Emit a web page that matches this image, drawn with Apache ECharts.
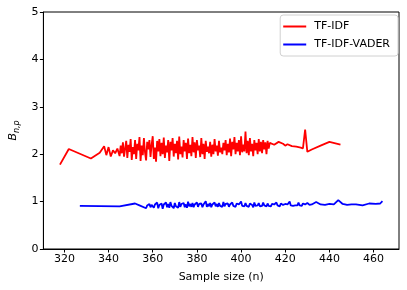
<!DOCTYPE html>
<html><head><meta charset="utf-8">
<script src="https://cdn.jsdelivr.net/npm/echarts@6/dist/echarts.min.js"></script>
<style>html,body{margin:0;padding:0;background:#fff}#c{width:407px;height:290px}</style>
</head><body><div id="c"></div>
<script>
var xTicks = [320, 340, 360, 380, 400, 420, 440, 460];
var yTicks = [0, 1, 2, 3, 4, 5];

var tfidfX = [318,322,332,336,338,339,340,341,342,343,344,
345,345.5,346,346.5,347,347.5,348,348.5,349,349.5,350,350.5,351,351.5,352,352.5,353,353.5,354,354.5,
355,355.5,356,356.5,357,357.5,358,358.5,359,359.5,360,360.5,361,361.5,362,362.5,363,363.5,364,364.5,
365,365.5,366,366.5,367,367.5,368,368.5,369,369.5,370,370.5,371,371.5,372,372.5,373,373.5,374,374.5,
375,375.5,376,376.5,377,377.5,378,378.5,379,379.5,380,380.5,381,381.5,382,382.5,383,383.5,384,384.5,
385,385.5,386,386.5,387,387.5,388,388.5,389,389.5,390,390.5,391,391.5,392,392.5,393,393.5,394,394.5,
395,395.5,396,396.5,397,397.5,398,398.5,399,399.5,400,400.5,401,401.5,402,402.5,403,403.5,404,404.5,
405,405.5,406,406.5,407,407.5,408,408.5,409,409.5,410,410.5,411,411.5,412,412.5,413,
415,417,419,420,421,423,425,427,428,429,430,432,436,440,445];
var tfidfY = [1.78,2.11,1.91,2.03,2.17,1.98,2.15,1.95,2.08,2.02,2.12,
1.96,2.18,2.02,2.25,1.95,2.12,2.28,1.92,2.20,2.05,2.32,1.88,2.15,2.00,2.30,1.90,2.22,2.08,2.36,1.86,
2.18,1.98,2.34,2.04,1.87,2.26,2.10,2.30,1.94,2.20,2.38,1.90,2.14,1.84,2.28,2.06,2.32,1.96,2.24,2.00,
2.35,1.92,2.18,2.04,2.30,1.86,2.26,2.08,2.34,1.95,2.22,2.02,2.28,1.89,2.37,2.00,2.16,1.93,2.30,2.06,
2.24,1.90,2.33,2.02,2.20,1.96,2.36,2.04,2.25,1.92,2.30,2.08,2.18,1.94,2.34,2.00,2.22,1.90,2.28,2.05,
2.16,2.02,2.26,1.95,2.20,2.00,2.32,2.06,2.18,1.97,2.28,2.04,2.14,2.00,2.24,2.08,2.30,1.98,2.22,2.04,
2.33,1.96,2.26,2.10,2.36,2.00,2.24,2.06,2.30,1.98,2.38,2.04,2.20,2.06,2.48,2.02,2.28,1.98,2.34,2.06,
2.22,1.96,2.30,2.08,2.24,2.00,2.32,2.06,2.26,2.02,2.30,2.10,2.25,2.00,2.28,2.12,2.24,
2.20,2.26,2.22,2.18,2.21,2.17,2.16,2.14,2.12,2.52,2.05,2.10,2.18,2.26,2.20];

var vaderX = [327,345,352,354,
357,357.5,358,358.5,359,359.5,360,360.5,361,361.5,362,362.5,363,363.5,364,364.5,
365,365.5,366,366.5,367,367.5,368,368.5,369,369.5,370,370.5,371,371.5,372,372.5,373,373.5,374,374.5,
375,375.5,376,376.5,377,377.5,378,378.5,379,379.5,380,380.5,381,381.5,382,382.5,383,383.5,384,384.5,
385,385.5,386,386.5,387,387.5,388,388.5,389,389.5,390,390.5,391,391.5,392,392.5,393,393.5,394,394.5,
395,395.5,396,396.5,397,397.5,398,398.5,399,399.5,400,400.5,401,401.5,402,402.5,403,403.5,404,404.5,
405,405.5,406,406.5,407,407.5,408,408.5,409,409.5,410,410.5,411,411.5,412,412.5,413,413.5,414,414.5,
415,415.5,416,416.5,417,417.5,418,418.5,419,419.5,420,420.5,421,421.5,422,422.5,423,423.5,424,424.5,
425,425.5,426,426.5,427,427.5,428,428.5,429,429.5,430,431,432,
434,436,438,440,442,444,446,448,450,452,455,458,461,463,464];
var vaderY = [0.91,0.90,0.96,0.92,
0.86,0.92,0.89,0.95,0.88,0.93,0.97,0.87,0.94,0.90,0.98,0.86,0.93,0.89,0.96,0.85,
0.94,0.90,0.98,0.88,0.95,0.87,0.99,0.91,0.94,0.86,0.97,0.90,0.93,0.87,0.99,0.89,0.95,0.91,0.97,0.88,
0.94,0.87,1.00,0.90,0.95,0.89,0.97,0.88,0.94,0.90,0.98,0.89,0.95,0.91,0.96,0.88,0.94,0.90,1.01,0.89,
0.95,0.90,0.97,0.88,0.94,0.91,0.98,0.90,0.95,0.89,0.97,0.91,0.93,0.89,0.99,0.90,0.95,0.91,0.96,0.89,
0.94,0.90,0.98,0.91,0.95,0.89,0.96,0.92,0.94,0.90,1.00,0.91,0.95,0.90,0.97,0.91,0.94,0.89,0.96,0.92,
0.93,0.88,0.98,0.91,0.95,0.92,0.97,0.90,0.94,0.91,0.98,0.92,0.94,0.90,0.96,0.91,0.93,0.90,0.95,0.92,
0.94,0.91,0.98,0.92,0.95,0.90,0.96,0.92,0.93,0.91,0.95,0.92,0.94,0.91,1.00,0.92,0.94,0.91,0.95,0.92,
0.94,0.92,0.98,0.92,0.94,0.91,0.96,0.92,0.94,0.91,0.97,0.93,0.94,
0.99,0.94,0.93,0.95,0.94,1.03,0.95,0.93,0.94,0.94,0.92,0.96,0.95,0.96,1.01];

function zip(a, b) { return a.map(function (v, i) { return [v, b[i]]; }); }

var chart = echarts.init(document.getElementById('c'), null, {renderer: 'canvas'});
var font = 'DejaVu Sans';
chart.setOption({
  animation: false,
  textStyle: {fontFamily: font},
  grid: {left: 38, right: 8, top: 12, bottom: 41, show: true, borderColor: '#000', borderWidth: 1, backgroundColor: 'transparent'},
  legend: {
    orient: 'vertical', right: 9, top: 15,
    backgroundColor: '#fff', borderColor: '#d0d0d0', borderWidth: 1, borderRadius: 3,
    padding: [6, 8, 6, 3], itemGap: 7, itemWidth: 23, itemHeight: 2, icon: 'rect',
    textStyle: {fontFamily: font, fontSize: 11, color: '#000', padding: [0, 0, 0, 3]},
    data: ['TF-IDF', 'TF-IDF-VADER']
  },
  xAxis: {
    type: 'value', min: 310.5, max: 471.5,
    name: 'Sample size (n)', nameLocation: 'middle', nameGap: 23,
    nameTextStyle: {fontFamily: font, fontSize: 11, color: '#000'},
    axisLine: {show: true, lineStyle: {color: '#000', width: 1}},
    axisTick: {show: true, inside: false, length: 3.5, lineStyle: {color: '#000'}, customValues: xTicks},
    axisLabel: {fontFamily: font, fontSize: 11, color: '#000', margin: 5, customValues: xTicks},
    splitLine: {show: false}
  },
  yAxis: {
    type: 'value', min: 0, max: 5, interval: 1,
    name: '{b|B}{s|n,p}', nameLocation: 'middle', nameGap: 20, nameRotate: 90,
    nameTextStyle: {
      color: '#000', fontFamily: font,
      rich: {
        b: {fontFamily: font, fontStyle: 'italic', fontSize: 11, color: '#000'},
        s: {fontFamily: font, fontStyle: 'italic', fontSize: 8, color: '#000', padding: [6, 0, 0, 0]}
      }
    },
    axisLine: {show: true, lineStyle: {color: '#000', width: 1}},
    axisTick: {show: true, inside: false, length: 3.5, lineStyle: {color: '#000'}, customValues: yTicks},
    axisLabel: {fontFamily: font, fontSize: 11, color: '#000', margin: 5, customValues: yTicks},
    splitLine: {show: false}
  },
  series: [
    {name: 'TF-IDF', type: 'line', data: zip(tfidfX, tfidfY), symbol: 'none', showSymbol: false,
     lineStyle: {color: '#ff0000', width: 1.8}, itemStyle: {color: '#ff0000'}},
    {name: 'TF-IDF-VADER', type: 'line', data: zip(vaderX, vaderY), symbol: 'none', showSymbol: false,
     lineStyle: {color: '#0000ff', width: 1.8}, itemStyle: {color: '#0000ff'}}
  ]
});
</script>
</body></html>
